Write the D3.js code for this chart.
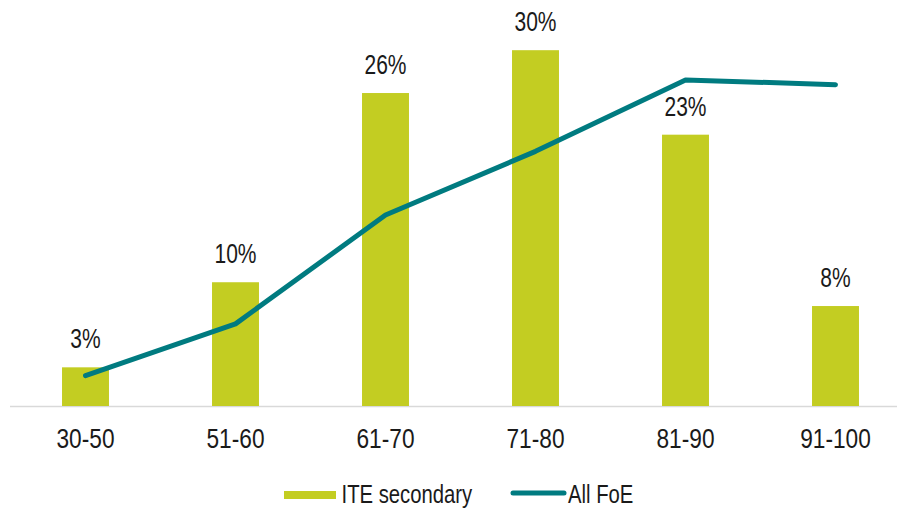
<!DOCTYPE html>
<html>
<head>
<meta charset="utf-8">
<script src="https://cdn.jsdelivr.net/npm/d3@7"></script>
<style>
  html, body { margin: 0; padding: 0; background: #fff; }
  svg { display: block; }
  text { font-family: "Liberation Sans Narrow", "Liberation Sans", Arial, sans-serif; fill: #1a1a1a; }
</style>
</head>
<body>
<svg id="chart" width="897" height="508"></svg>
<script>
const categories = ["30-50", "51-60", "61-70", "71-80", "81-90", "91-100"];
const iteSecondary = [3.25, 10.4, 26.3, 29.9, 22.8, 8.4];
const allFoE = [2.55, 6.9, 16.05, 21.4, 27.4, 27.0];
const seriesNames = ["ITE secondary", "All FoE"];

const W = 897, H = 508;
const svg = d3.select("#chart");
const baseY = 406;

const x = d3.scaleBand().domain(categories).range([10.5, 910.5]).paddingInner(0.687).paddingOuter(0.3435);
const y = d3.scaleLinear().domain([0, 32]).range([baseY, baseY - 32 * 11.9]);

const barColor = "#C3CD22";
const lineColor = "#007B80";
const cx = c => x(c) + x.bandwidth() / 2;

// axis baseline
svg.append("line")
  .attr("x1", 10).attr("x2", W)
  .attr("y1", baseY + 0.5).attr("y2", baseY + 0.5)
  .attr("stroke", "#d9d9d9").attr("stroke-width", 1.5);

// bars
svg.selectAll("rect.bar").data(iteSecondary).join("rect")
  .attr("class", "bar")
  .attr("x", (d, i) => x(categories[i]))
  .attr("width", x.bandwidth())
  .attr("y", d => y(d))
  .attr("height", d => baseY - y(d))
  .attr("fill", barColor);

// bar labels
svg.selectAll("text.lbl").data(iteSecondary).join("text")
  .attr("class", "lbl")
  .attr("transform", (d, i) => `translate(${cx(categories[i])},${y(d) - 19}) scale(0.75,1)`)
  .attr("text-anchor", "middle")
  .attr("font-size", 28)
  .text(d => Math.round(d) + "%");

// line
const line = d3.line()
  .x((d, i) => cx(categories[i]))
  .y(d => y(d));
svg.append("path")
  .datum(allFoE)
  .attr("d", line)
  .attr("fill", "none")
  .attr("stroke", lineColor)
  .attr("stroke-width", 5)
  .attr("stroke-linecap", "round")
  .attr("stroke-linejoin", "round");

// x axis labels
svg.selectAll("text.xl").data(categories).join("text")
  .attr("class", "xl")
  .attr("transform", d => `translate(${cx(d)},447.5) scale(0.81,1)`)
  .attr("text-anchor", "middle")
  .attr("font-size", 28)
  .text(d => d);

// legend
const lg = svg.append("g");
lg.append("rect").attr("x", 284).attr("y", 491).attr("width", 52).attr("height", 8).attr("fill", barColor);
lg.append("text").attr("transform", "translate(341.5,503.3) scale(0.78,1)").attr("font-size", 26).text(seriesNames[0]);
lg.append("line").attr("x1", 513).attr("x2", 564).attr("y1", 493).attr("y2", 493)
  .attr("stroke", lineColor).attr("stroke-width", 5).attr("stroke-linecap", "round");
lg.append("text").attr("transform", "translate(568,503.3) scale(0.78,1)").attr("font-size", 26).text(seriesNames[1]);
</script>
</body>
</html>
